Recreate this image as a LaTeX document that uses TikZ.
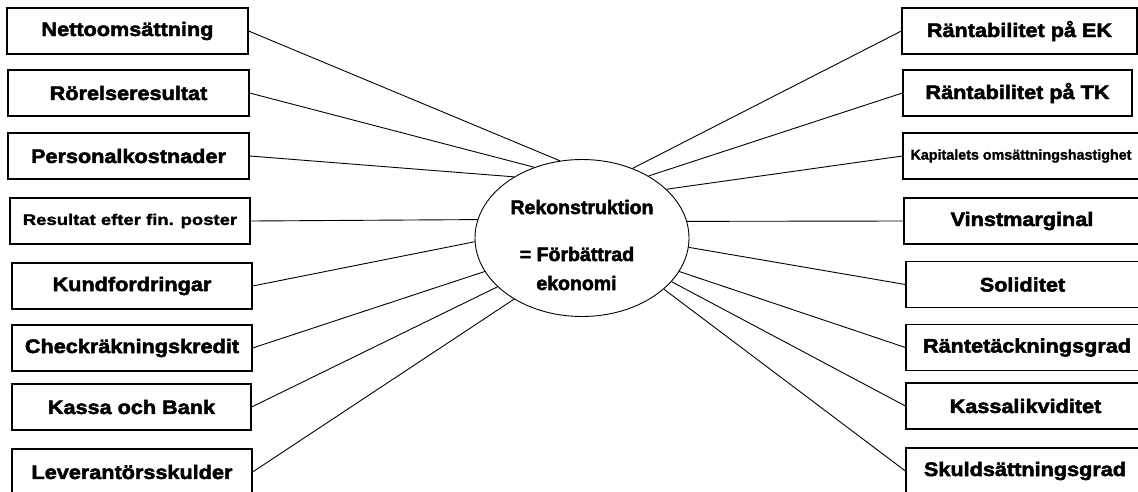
\documentclass[tikz,border=0pt]{standalone}
\usepackage{fontspec}
\usetikzlibrary{shapes.geometric}
\setmainfont{Liberation Sans}
\newfontfamily\boxfont[FakeStretch=1.11,BoldFeatures={FakeBold=2.5}]{Liberation Sans}
\newfontfamily\centerfont[BoldFeatures={FakeBold=2.5}]{Liberation Sans}
\newfontfamily\spacedfont[FakeStretch=1.2,BoldFeatures={FakeBold=1.5}]{Liberation Sans}
\newfontfamily\smallfont[BoldFeatures={FakeBold=1.5}]{Liberation Sans}
\tikzset{
  lbox/.style={draw=black, line width=1.2pt, rectangle, minimum height=46pt, inner sep=0pt,
    font=\boxfont\bfseries\fontsize{19.5}{23}\selectfont},
  smallA/.style={font=\spacedfont\bfseries\fontsize{15.4}{18}\selectfont},
  smallB/.style={font=\smallfont\bfseries\fontsize{14.3}{17}\selectfont},
  conn/.style={draw=black, line width=0.9pt},
  ctext/.style={inner sep=0pt, anchor=base, font=\centerfont\bfseries\fontsize{19.5}{23}\selectfont}
}
\begin{document}
\begin{tikzpicture}[x=1pt,y=-1pt]
\useasboundingbox (0,0) rectangle (1138,491);
\fill[white] (0,0) rectangle (1138,491);
% centre ellipse
\node[draw=black, line width=0.9pt, ellipse, minimum width=214pt, minimum height=157pt, inner sep=0pt] (E) at (582,238) {};
\node[ctext] (t1) at (582,214) {Rekonstruktion};
\node[ctext] (t2) at (577,261) {= Förbättrad};
\node[ctext] (t3) at (576.5,290) {ekonomi};
% left boxes
\node[lbox, minimum width=241pt] (L1) at (127.5,31) {Nettoomsättning};
\node[lbox, minimum width=241pt] (L2) at (128.5,93) {Rörelseresultat};
\node[lbox, minimum width=241pt] (L3) at (128.5,156) {Personalkostnader};
\node[lbox, smallA, minimum width=240pt] (L4) at (130,221) {Resultat efter fin. poster};
\node[lbox, minimum width=240pt] (L5) at (132,286) {Kundfordringar};
\node[lbox, minimum width=240pt] (L6) at (132,348) {Checkräkningskredit};
\node[lbox, minimum width=239pt] (L7) at (131.5,407) {Kassa och Bank};
\node[lbox, minimum width=240pt] (L8) at (132,472) {Leverantörsskulder};
% right boxes
\node[lbox, minimum width=235pt] (R1) at (1019.5,31) {Räntabilitet på EK};
\node[lbox, minimum width=229pt] (R2) at (1017.5,93) {Räntabilitet på TK};
\node[lbox, smallB, minimum width=236pt] (R3) at (1021,156) {Kapitalets omsättningshastighet};
\node[lbox, minimum width=236pt] (R4) at (1022,221) {Vinstmarginal};
\node[lbox, minimum width=233pt] (R5) at (1022.5,284.5) {Soliditet};
\node[lbox, minimum width=242pt] (R6) at (1027,347.5) {Räntetäckningsgrad};
\node[lbox, minimum width=239pt] (R7) at (1025.5,406) {Kassalikviditet};
\node[lbox, minimum width=238pt] (R8) at (1025,471) {Skuldsättningsgrad};
% connectors left
\draw[conn] (L1.east) -- (E.106);
\draw[conn] (L2.east) -- (E.124);
\draw[conn] (L3.east) -- (E.138);
\draw[conn] (L4.east) -- (E.170);
\draw[conn] (L5.east) -- (E.182);
\draw[conn] (L6.east) -- (E.199);
\draw[conn] (L7.east) -- (E.210);
\draw[conn] (L8.east) -- (E.222);
% connectors right
\draw[conn] (R1.west) -- (E.54);
\draw[conn] (R2.west) -- (E.43);
\draw[conn] (R3.west) -- (E.30);
\draw[conn] (R4.west) -- (E.9);
\draw[conn] (R5.west) -- (E.-5);
\draw[conn] (R6.west) -- (E.-19);
\draw[conn] (R7.west) -- (E.-26);
\draw[conn] (R8.west) -- (E.-32);
\end{tikzpicture}
\end{document}
